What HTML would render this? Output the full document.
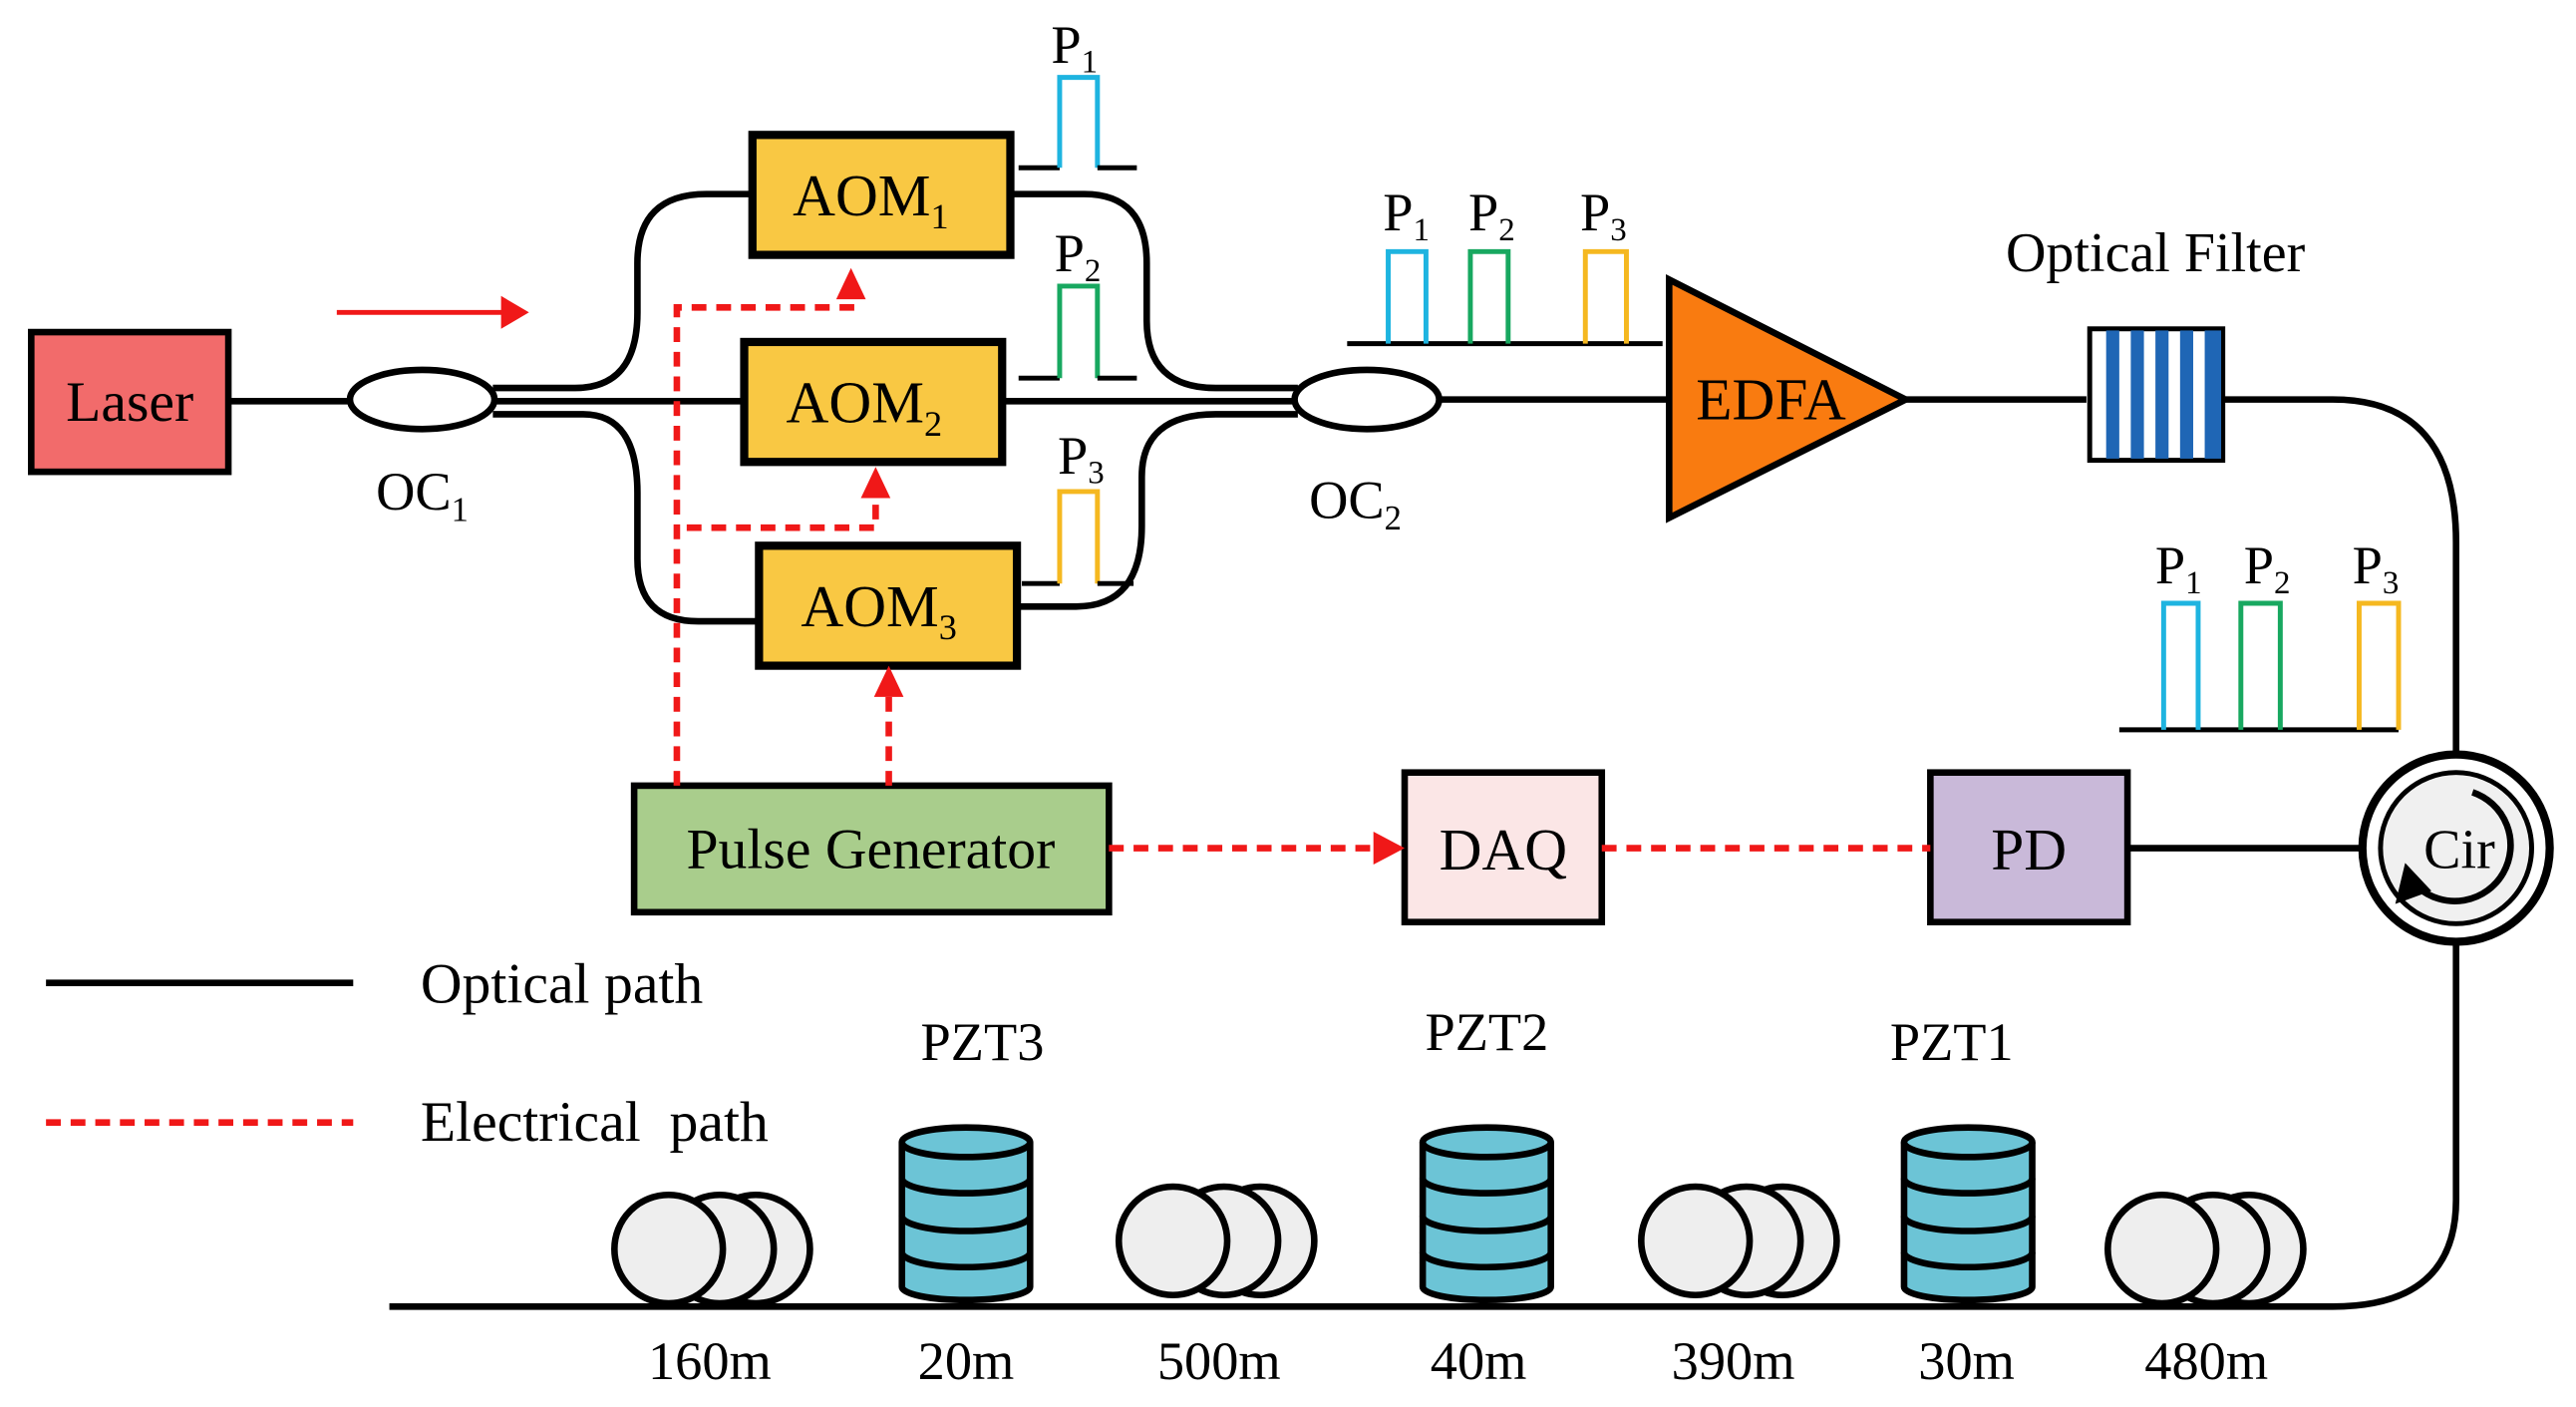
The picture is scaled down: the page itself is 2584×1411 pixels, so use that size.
<!DOCTYPE html>
<html><head><style>html,body{margin:0;padding:0;background:#fff}svg{display:block}svg text{font-family:"Liberation Serif","DejaVu Serif",serif}</style></head>
<body>
<svg width="2584" height="1411" viewBox="0 0 1568 856" xmlns="http://www.w3.org/2000/svg">
<rect width="1568" height="856" fill="#fff"/>
<g stroke="#000" stroke-width="4" fill="none">
<line x1="139" y1="244" x2="215" y2="244"/>
<path d="M300,236 H350 Q388,236 388,190 V160 Q388,118 430,118 H458"/>
<line x1="300" y1="244" x2="453" y2="244"/>
<path d="M300,252 H355 Q388,252 388,300 V340 Q388,378 425,378 H462"/>
<path d="M615,118 H660 Q698,118 698,160 V195 Q698,236 740,236 H790"/>
<line x1="610" y1="244" x2="790" y2="244"/>
<path d="M619,369 H655 Q695,369 695,320 V290 Q695,252 740,252 H790"/>
<line x1="877" y1="243" x2="1015" y2="243"/>
<line x1="1160" y1="243" x2="1270" y2="243"/>
<path d="M1353,243 H1420 Q1495,243 1495,330 V458"/>
<path d="M1495,574 V730 Q1495,795 1420,795 H237"/>
<line x1="1295" y1="516" x2="1437" y2="516"/>
<line x1="28" y1="598" x2="215" y2="598"/>
</g>
<ellipse cx="257" cy="243" rx="44" ry="18" fill="#fff" stroke="#000" stroke-width="4"/>
<ellipse cx="832" cy="243" rx="44" ry="18" fill="#fff" stroke="#000" stroke-width="4"/>
<rect x="19" y="202" width="120" height="85" fill="#f26b6b" stroke="#000" stroke-width="4"/>
<text x="79" y="256" font-size="35" text-anchor="middle">Laser</text>
<rect x="458" y="82" width="157" height="73" fill="#f9c843" stroke="#000" stroke-width="5"/>
<text x="530" y="131" font-size="36" text-anchor="middle">AOM<tspan font-size="22" dy="8">1</tspan></text>
<rect x="453" y="208" width="157" height="73" fill="#f9c843" stroke="#000" stroke-width="5"/>
<text x="526" y="257" font-size="36" text-anchor="middle">AOM<tspan font-size="22" dy="8">2</tspan></text>
<rect x="462" y="332" width="157" height="73" fill="#f9c843" stroke="#000" stroke-width="5"/>
<text x="535" y="381" font-size="36" text-anchor="middle">AOM<tspan font-size="22" dy="8">3</tspan></text>
<rect x="386" y="478" width="289" height="77" fill="#a9cd8c" stroke="#000" stroke-width="4"/>
<text x="530" y="528" font-size="35" text-anchor="middle">Pulse Generator</text>
<rect x="855" y="470" width="120" height="91" fill="#fbe6e6" stroke="#000" stroke-width="4"/>
<text x="915" y="529" font-size="36" text-anchor="middle">DAQ</text>
<rect x="1175" y="470" width="120" height="91" fill="#c9b9d9" stroke="#000" stroke-width="4"/>
<text x="1235" y="529" font-size="36" text-anchor="middle">PD</text>
<polygon points="1016,170 1016,315 1160,243" fill="#f97b10" stroke="#000" stroke-width="4"/>
<text x="1078" y="255" font-size="36" text-anchor="middle">EDFA</text>
<rect x="1272" y="200" width="81" height="80" fill="#fff" stroke="#000" stroke-width="3"/>
<g fill="#1f66b5"><rect x="1282" y="201" width="8" height="78"/><rect x="1297" y="201" width="8" height="78"/><rect x="1312" y="201" width="8" height="78"/><rect x="1327" y="201" width="8" height="78"/><rect x="1342" y="201" width="10" height="78"/></g>
<text x="1312" y="165" font-size="34" text-anchor="middle">Optical Filter</text>
<circle cx="1495" cy="516" r="57" fill="#fff" stroke="#000" stroke-width="5"/>
<circle cx="1495" cy="516" r="46" fill="#f0f0f0" stroke="#000" stroke-width="3"/>
<path d="M1505,482 A34,34 0 1 1 1472,540" fill="none" stroke="#000" stroke-width="4"/>
<polygon points="1458,550 1464,525 1480,542" fill="#000"/>
<text x="1497" y="528" font-size="34" text-anchor="middle">Cir</text>
<text x="257" y="310" font-size="33" text-anchor="middle">OC<tspan font-size="21" dy="7">1</tspan></text>
<text x="825" y="315" font-size="33" text-anchor="middle">OC<tspan font-size="21" dy="7">2</tspan></text>
<line x1="205" y1="190" x2="312" y2="190" stroke="#f01818" stroke-width="3"/>
<polygon points="305,180 322,190 305,200" fill="#f01818"/>
<g stroke="#f01818" stroke-width="4" fill="none" stroke-dasharray="9,6">
<path d="M412,478 V187 H518 V172"/>
<path d="M418,321 H533 V295"/>
<path d="M541,478 V418"/>
<path d="M675,516 H840"/>
<path d="M975,516 H1175"/>
<path d="M28,683 H215"/>
</g>
<g fill="#f01818">
<polygon points="509,182 518,163 527,182"/>
<polygon points="524,303 533,284 542,303"/>
<polygon points="532,424 541,405 550,424"/>
<polygon points="836,506 855,516 836,526"/>
</g>
<g fill="none" stroke-width="3">
<path d="M620,102 H645" stroke="#000"/><path d="M645,102 V47 H668 V102" stroke="#1eb4e0"/><path d="M668,102 H692" stroke="#000"/>
<path d="M620,230 H645" stroke="#000"/><path d="M645,230 V174 H668 V230" stroke="#18a860"/><path d="M668,230 H692" stroke="#000"/>
<path d="M622,355 H645" stroke="#000"/><path d="M645,355 V299 H668 V355" stroke="#f5b820"/><path d="M668,355 H690" stroke="#000"/>
<path d="M820,209 H1012" stroke="#000"/>
<path d="M845,209 V153 H868 V209" stroke="#1eb4e0"/>
<path d="M895,209 V153 H918 V209" stroke="#18a860"/>
<path d="M965,209 V153 H990 V209" stroke="#f5b820"/>
<path d="M1290,444 H1460" stroke="#000"/>
<path d="M1317,444 V367 H1338 V444" stroke="#1eb4e0"/>
<path d="M1364,444 V367 H1388 V444" stroke="#18a860"/>
<path d="M1436,444 V367 H1460 V444" stroke="#f5b820"/>
</g>
<g font-size="33" text-anchor="middle">
<text x="654" y="38">P<tspan font-size="20" dy="6">1</tspan></text>
<text x="656" y="165">P<tspan font-size="20" dy="6">2</tspan></text>
<text x="658" y="288">P<tspan font-size="20" dy="6">3</tspan></text>
<text x="856" y="140">P<tspan font-size="20" dy="6">1</tspan></text>
<text x="908" y="140">P<tspan font-size="20" dy="6">2</tspan></text>
<text x="976" y="140">P<tspan font-size="20" dy="6">3</tspan></text>
<text x="1326" y="355">P<tspan font-size="20" dy="6">1</tspan></text>
<text x="1380" y="355">P<tspan font-size="20" dy="6">2</tspan></text>
<text x="1446" y="355">P<tspan font-size="20" dy="6">3</tspan></text>
</g>
<text x="256" y="610" font-size="35">Optical path</text>
<text x="256" y="694" font-size="35" xml:space="preserve">Electrical  path</text>
<g fill="#eeeeee" stroke="#000" stroke-width="4">
<circle cx="460" cy="760" r="33"/><circle cx="438" cy="760" r="33"/><circle cx="407" cy="760" r="33"/>
<circle cx="767" cy="755" r="33"/><circle cx="745" cy="755" r="33"/><circle cx="714" cy="755" r="33"/>
<circle cx="1085" cy="755" r="33"/><circle cx="1063" cy="755" r="33"/><circle cx="1032" cy="755" r="33"/>
<circle cx="1369" cy="760" r="33"/><circle cx="1347" cy="760" r="33"/><circle cx="1316" cy="760" r="33"/>
</g>
<g id="pzt" fill="#6cc4d6" stroke="#000" stroke-width="4">
<path d="M549,695 V783 A39,8 0 0 0 627,783 V695"/>
<ellipse cx="588" cy="695" rx="39" ry="9"/>
<path d="M549,717 A39,9 0 0 0 627,717 M549,740 A39,9 0 0 0 627,740 M549,762 A39,9 0 0 0 627,762" fill="none"/>
</g>
<use href="#pzt" x="317" y="0"/>
<use href="#pzt" x="610" y="0"/>
<g font-size="33" text-anchor="middle">
<text x="598" y="645">PZT3</text>
<text x="905" y="639">PZT2</text>
<text x="1188" y="645">PZT1</text>
<text x="432" y="839">160m</text>
<text x="588" y="839">20m</text>
<text x="742" y="839">500m</text>
<text x="900" y="839">40m</text>
<text x="1055" y="839">390m</text>
<text x="1197" y="839">30m</text>
<text x="1343" y="839">480m</text>
</g>
</svg>
</body></html>
